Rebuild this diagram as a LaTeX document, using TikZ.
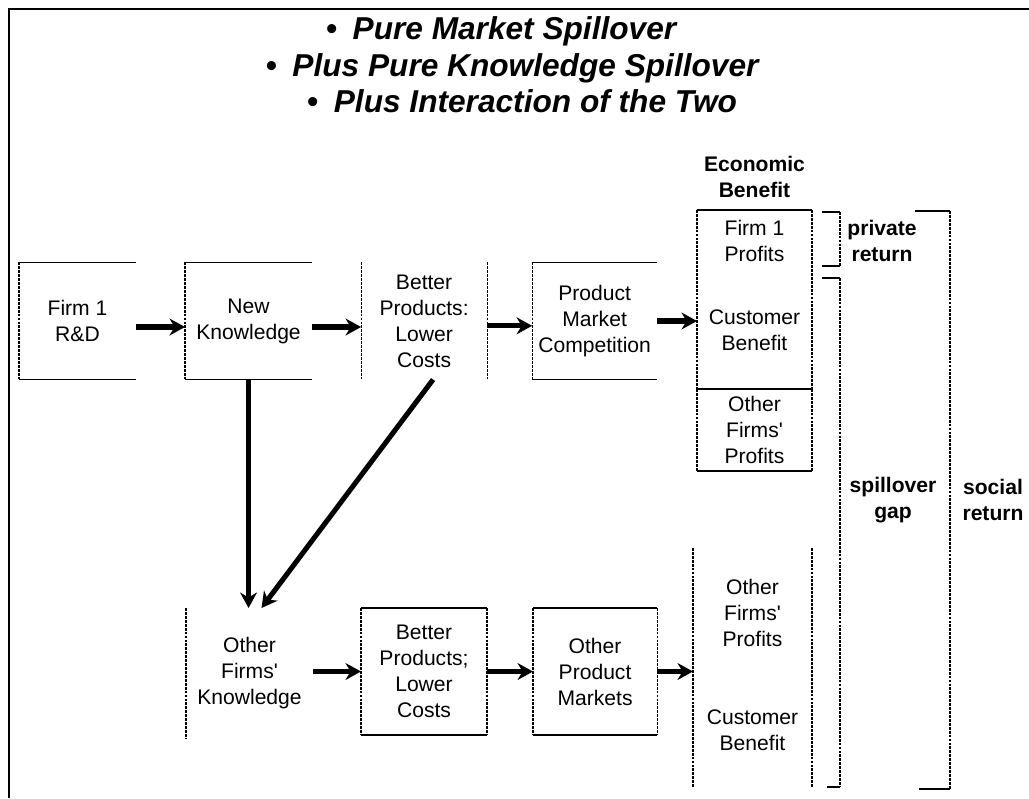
\documentclass[tikz,border=0pt]{standalone}
\usepackage{fontspec}
\setmainfont{Liberation Sans}
\usetikzlibrary{positioning, arrows.meta}
\tikzset{
    block/.style={inner sep=0pt, outer sep=0pt, align=center, font=\fontsize{15}{18.5}\selectfont},
    tag/.style={inner sep=0pt, outer sep=0pt, align=center, font=\fontsize{15}{19}\selectfont\bfseries},
    headline/.style={anchor=base, inner sep=0pt, font=\fontsize{22.5}{26}\selectfont\bfseries\itshape},
    rim/.style={line width=1.3pt},
    thinrim/.style={line width=0.9pt},
    side/.style={line width=0.8pt, dash pattern=on 2pt off 0.8pt},
    flow/.style={line width=3.6pt, -{Stealth[length=11pt, width=12pt]}}
}
\begin{document}
\begin{tikzpicture}[x=0.025cm, y=-0.025cm, node distance=1.2cm]
	\useasboundingbox (0,0) rectangle (1029,798);
	\draw[line width=2pt] (9,798) -- (9,9) -- (1029,9);
	% headings
	\node(TitleA)[headline] at (501,39) {\textbullet\enspace Pure Market Spillover};
	\node(TitleB)[headline] at (512,76) {\textbullet\enspace Plus Pure Knowledge Spillover};
	\node(TitleC)[headline] at (522,112) {\textbullet\enspace Plus Interaction of the Two};
	% firm 1 chain
	\node(RnD)[block, minimum width=2.925cm, minimum height=2.925cm] at (77.5,321) {Firm 1\\R\&D};
	\node(NewKnow)[block, minimum width=3.175cm, minimum height=2.925cm, right=1.225cm of RnD] {New\\Knowledge};
	\node(BetterTop)[block, minimum width=3.15cm, minimum height=2.925cm, right=1.225cm of NewKnow] {Better\\Products:\\Lower\\Costs};
	\node(Market)[block, minimum width=3.125cm, minimum height=2.925cm, right=1.125cm of BetterTop] {Product\\Market\\Competition};
	% economic benefit
	\node(EconTop)[block, minimum width=2.875cm, minimum height=4.475cm] at (754.5,299.5) {};
	\node(EconLow)[block, minimum width=2.875cm, minimum height=2.05cm, below=0cm of EconTop] {Other\\Firms\textquotesingle\\Profits};
	\node(EconHead)[tag, above=0.3cm of EconTop] {Economic\\Benefit};
	\node(FirmProf)[block] at (754.5,241) {Firm 1\\Profits};
	\node(CustBen)[block] at (754.5,330) {Customer\\Benefit};
	% other firms chain
	\node(OtherKnow)[block, minimum width=3.175cm, minimum height=3.25cm] at (249.5,673) {Other\\Firms\textquotesingle\\Knowledge};
	\node(BetterLow)[block, minimum width=3.15cm, minimum height=3.175cm] at (424,671.5) {Better\\Products;\\Lower\\Costs};
	\node(OtherMarkets)[block, minimum width=3.1cm, minimum height=3.175cm, right=1.15cm of BetterLow] {Other\\Product\\Markets};
	\node(OtherCol)[block, minimum width=2.975cm, minimum height=6cm] at (752.5,668) {};
	\node(OtherProf)[block] at (752.5,613) {Other\\Firms\textquotesingle\\Profits};
	\node(OtherCust)[block] at (752.5,730) {Customer\\Benefit};
	% box outlines
	\foreach \b in {RnD, NewKnow, Market}{
		\draw[rim] (\b.north east) -- (\b.north west) (\b.south west) -- (\b.south east);
		\draw[side] (\b.north west) -- (\b.south west);
	}
	\foreach \b in {EconTop, EconLow, BetterLow, OtherMarkets}{
		\draw[rim] (\b.north west) -- (\b.north east) (\b.south west) -- (\b.south east);
		\draw[side] (\b.north west) -- (\b.south west) (\b.north east) -- (\b.south east);
	}
	\foreach \b in {BetterTop, OtherCol}{
		\draw[side] (\b.north west) -- (\b.south west) (\b.north east) -- (\b.south east);
	}
	\draw[side] (OtherKnow.north west) -- (OtherKnow.south west);
	% flows
	\draw[flow] ([yshift=-0.15cm]RnD.east) -- ([yshift=-0.15cm]NewKnow.west);
	\draw[flow] ([yshift=-0.15cm]NewKnow.east) -- ([yshift=-0.15cm]BetterTop.west);
	\draw[flow] ([yshift=-0.12cm]BetterTop.east) -- ([yshift=-0.12cm]Market.west);
	\draw[flow] (Market.east) -- (Market.east -| EconTop.west);
	\draw[flow] (NewKnow.south) -- (NewKnow.south |- OtherKnow.north);
	\draw[flow] ([xshift=0.225cm]BetterTop.south) -- ([xshift=0.3cm]OtherKnow.north);
	\draw[flow] (OtherKnow.east |- BetterLow.west) -- (BetterLow.west);
	\draw[flow] (BetterLow.east) -- (OtherMarkets.west);
	\draw[flow] (OtherMarkets.east) -- (OtherMarkets.east -| OtherCol.west);
	% returns
	\draw[thinrim] (822,212) -- (840,212) (822,266) -- (840,266) (822,278) -- (840,278);
	\draw[side] (840,212) -- (840,266) (840,278) -- (840,787) (950,211) -- (950,789);
	\draw[rim, line width=2pt] (827,787) -- (840,787) (915,211) -- (950,211);
	\draw[thinrim] (919,789) -- (950,789);
	\node(PrivRet)[tag] at (882,241) {private\\return};
	\node(SpillGap)[tag] at (893,500) {spillover\\gap};
	\node(SocRet)[tag] at (993,500) {social\\return};
\end{tikzpicture}
\end{document}
